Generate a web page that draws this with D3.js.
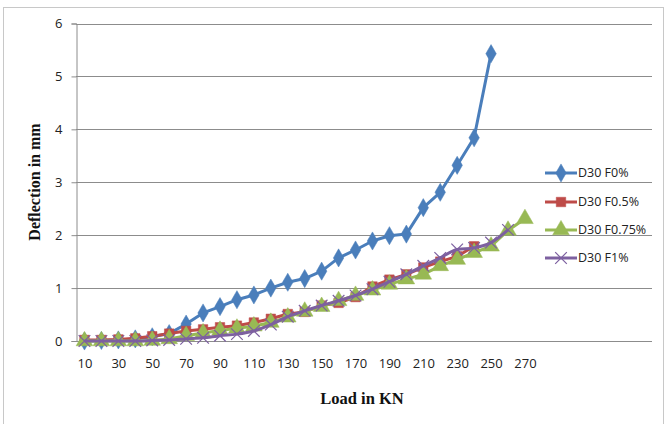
<!DOCTYPE html>
<html><head><meta charset="utf-8">
<script src="https://cdn.jsdelivr.net/npm/d3@7"></script>
<style>body{margin:0;background:#fff}svg{display:block}</style>
</head><body><svg id="c" width="665" height="424"></svg>
<script>
const loads = [10,20,30,40,50,60,70,80,90,100,110,120,130,140,150,160,170,180,190,200,210,220,230,240,250,260,270];
const xTickLabels = [10,30,50,70,90,110,130,150,170,190,210,230,250,270];
const yTicks = [0,1,2,3,4,5,6];
const seriesNames = ["D30 F0%","D30 F0.5%","D30 F0.75%","D30 F1%"];
const f0   = [0,0.01,0.02,0.04,0.08,0.14,0.32,0.53,0.65,0.78,0.87,1.0,1.11,1.18,1.32,1.57,1.72,1.89,1.99,2.02,2.52,2.81,3.32,3.84,5.43];
const f05  = [0.02,0.02,0.03,0.05,0.09,0.14,0.19,0.22,0.26,0.29,0.35,0.42,0.51,0.55,0.67,0.72,0.83,1.03,1.16,1.26,1.39,1.5,1.6,1.79];
const f075 = [0,0,0,0,0.01,0.04,0.1,0.15,0.2,0.24,0.28,0.35,0.45,0.56,0.65,0.76,0.86,0.96,1.07,1.17,1.26,1.42,1.54,1.67,1.79,2.09,2.31];
const f1   = [0,0,0,0,0.01,0.02,0.04,0.06,0.1,0.13,0.19,0.31,0.46,0.57,0.67,0.76,0.86,0.98,1.12,1.26,1.42,1.57,1.73,1.76,1.86,2.1];
const colors = ["#4a7ebb","#be4b48","#98b954","#7d60a0"];

const svg = d3.select("#c");
const L = 76, R = 652, T = 23.5, B = 341;
const x = d3.scaleLinear().domain([5,345]).range([L,R]);
const y = d3.scaleLinear().domain([0,6]).range([B,T]);

svg.append("rect").attr("x",3.5).attr("y",7.5).attr("width",660).attr("height",430)
  .attr("fill","#fff").attr("stroke","#c8c8c8");

// gridlines
svg.append("g").selectAll("line").data(yTicks).join("line")
  .attr("x1",L).attr("x2",R).attr("y1",d=>Math.round(y(d))+0.5).attr("y2",d=>Math.round(y(d))+0.5)
  .attr("stroke","#8c8c8c").attr("stroke-width",1);

// y axis
const yAxis = svg.append("g").attr("transform",`translate(${L+0.5},0)`)
  .call(d3.axisLeft(y).tickValues(yTicks).tickSize(5).tickPadding(9).tickFormat(d3.format("d")));
yAxis.select(".domain").attr("stroke","#8c8c8c");
yAxis.selectAll(".tick line").attr("stroke","#8c8c8c");
yAxis.selectAll("text").attr("font-family","Open Sans").attr("font-size","13px").attr("fill","#222");

// x axis labels
const xAxis = svg.append("g").attr("transform",`translate(0,${B})`)
  .call(d3.axisBottom(x).tickValues(xTickLabels).tickSize(0).tickPadding(18).tickFormat(d3.format("d")));
xAxis.select(".domain").remove();
xAxis.selectAll("text").attr("font-family","Open Sans").attr("font-size","13px").attr("fill","#222");

// titles
svg.append("text").attr("x",362).attr("y",404).attr("text-anchor","middle")
  .attr("font-family","Liberation Serif").attr("font-weight","bold").attr("font-size","16.5px").attr("fill","#111")
  .text("Load in KN");
svg.append("text").attr("transform","translate(40,182) rotate(-90)").attr("text-anchor","middle")
  .attr("font-family","Liberation Serif").attr("font-weight","bold").attr("font-size","16px").attr("fill","#111")
  .text("Deflection in mm");

const data = [f0,f05,f075,f1];
const curves = [d3.curveLinear,d3.curveLinear,d3.curveLinear,d3.curveMonotoneX];
const symbols = [d3.symbolDiamond,d3.symbolSquare,d3.symbolTriangle,d3.symbolX];
const sizes = [95,90,120,90];

function drawMarker(g,i,cx,cy,scale){
  const s = d3.symbol().type(symbols[i]).size(sizes[i]*(scale||1));
  const p = g.append("path").attr("d",s()).attr("transform",`translate(${cx},${cy})`);
  if(i===3){p.attr("fill","none").attr("stroke",colors[i]).attr("stroke-width",1.2);}
  else p.attr("fill",colors[i]).attr("stroke",colors[i]).attr("stroke-width",0.5);
}

data.forEach((vals,i)=>{
  const pts = vals.map((v,k)=>[loads[k],v]);
  const g = svg.append("g");
  g.append("path").datum(pts)
    .attr("d",d3.line().x(d=>x(d[0])).y(d=>y(d[1])).curve(curves[i]))
    .attr("fill","none").attr("stroke",colors[i]).attr("stroke-width",3).attr("stroke-linejoin","round");
  pts.forEach(d=>drawMarker(g,i,x(d[0]),y(d[1])));
});

// legend
const legY = [173,202,230,258];
seriesNames.forEach((n,i)=>{
  const g = svg.append("g");
  g.append("line").attr("x1",545).attr("x2",577).attr("y1",legY[i]).attr("y2",legY[i])
    .attr("stroke",colors[i]).attr("stroke-width",3);
  drawMarker(g,i,561,legY[i]);
  g.append("text").attr("x",578).attr("y",legY[i]).attr("dy","0.35em")
    .attr("font-family","Open Sans").attr("font-size","12.5px").attr("fill","#222").text(n);
});
</script></body></html>
